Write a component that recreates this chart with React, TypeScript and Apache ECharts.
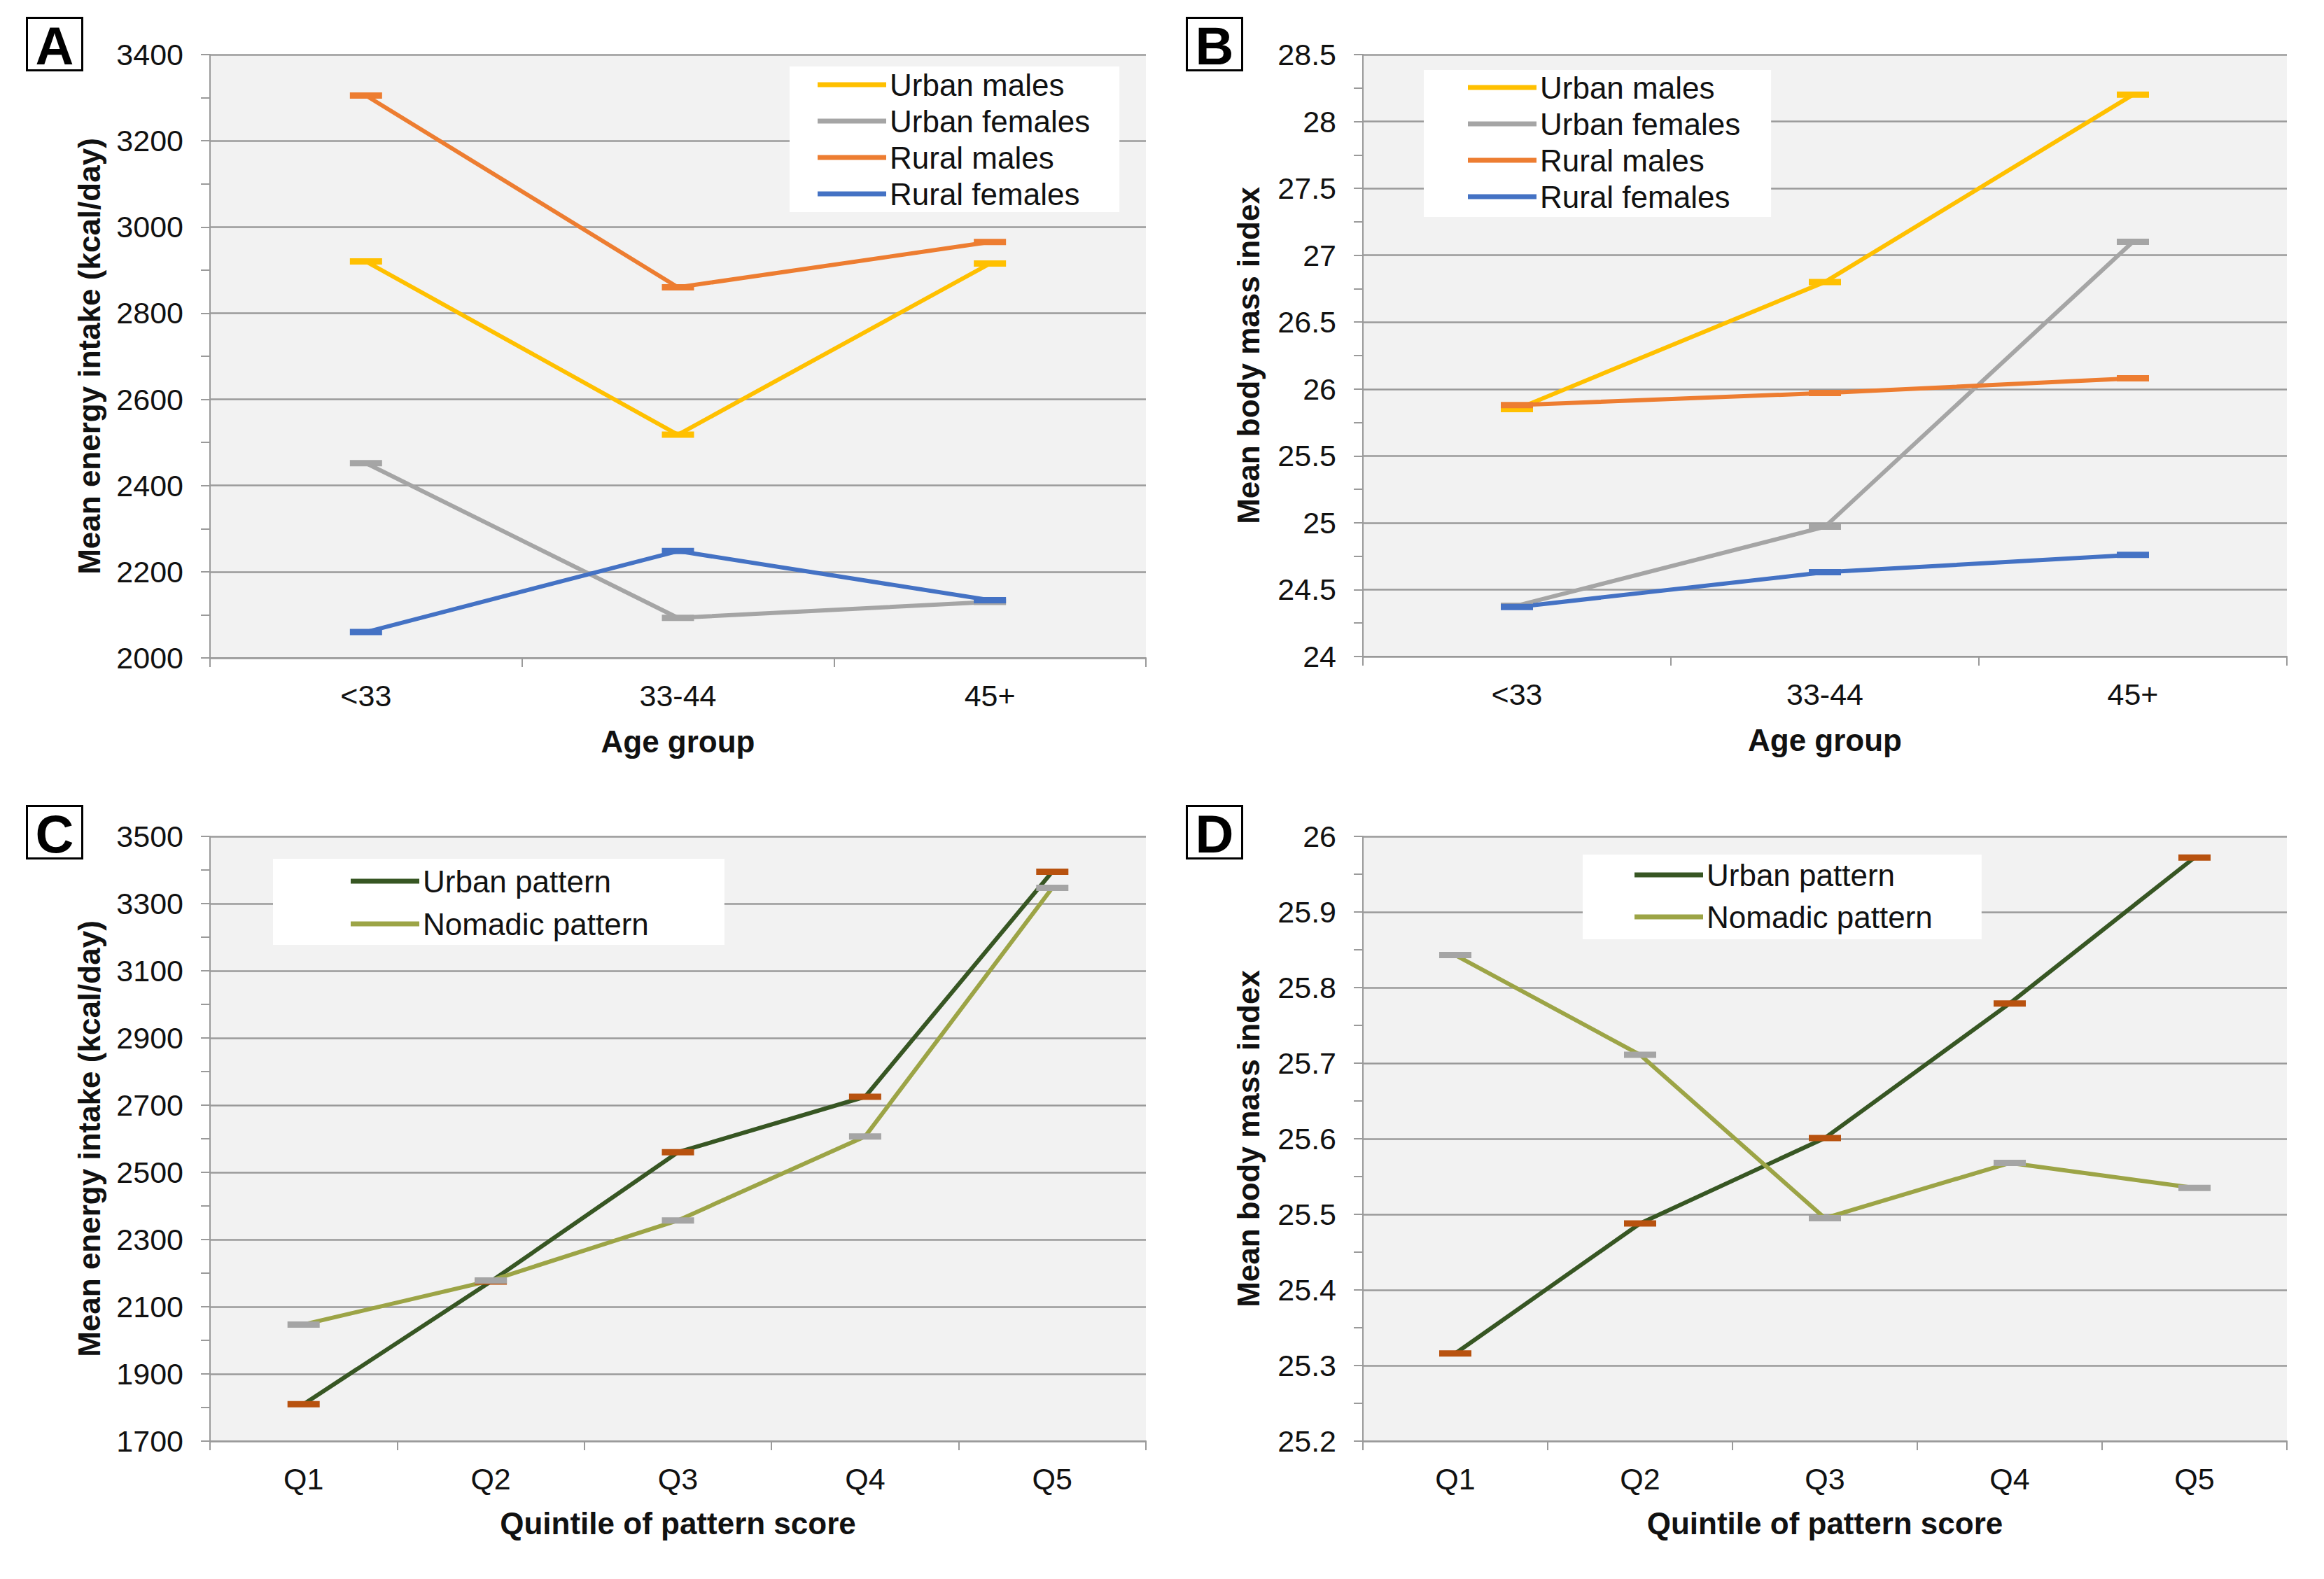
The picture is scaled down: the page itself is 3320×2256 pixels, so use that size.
import React, { useEffect, useRef } from "react";
import * as echarts from "echarts";

// ---------- data ----------
const ageGroups = ["<33", "33-44", "45+"];
const quintiles = ["Q1", "Q2", "Q3", "Q4", "Q5"];

const groupNames = ["Urban males", "Urban females", "Rural males", "Rural females"];
const groupColors = ["#FFC000", "#A5A5A5", "#ED7D31", "#4472C4"];

// Panel A: mean energy intake (kcal/day) by age group
const energyUrbanMales = [2920, 2518, 2915];
const energyUrbanFemales = [2452, 2093, 2130];
const energyRuralMales = [3305, 2860, 2965];
const energyRuralFemales = [2060, 2248, 2134];

// Panel B: mean BMI by age group
const bmiUrbanMales = [25.85, 26.8, 28.2];
const bmiUrbanFemales = [24.38, 24.97, 27.1];
const bmiRuralMales = [25.88, 25.97, 26.08];
const bmiRuralFemales = [24.37, 24.63, 24.76];

// Panel C: mean energy intake by quintile of pattern score
const patternNames = ["Urban pattern", "Nomadic pattern"];
const patternLineColors = ["#375623", "#9CA446"];
const patternMarkerColors = ["#B8520F", "#A5A5A5"];
const energyUrbanPattern = [1810, 2175, 2560, 2725, 3395];
const energyNomadicPattern = [2047, 2178, 2357, 2607, 3347];

// Panel D: mean BMI by quintile of pattern score
const bmiUrbanPattern = [25.316, 25.488, 25.601, 25.779, 25.972];
const bmiNomadicPattern = [25.843, 25.711, 25.495, 25.568, 25.535];

// axis settings
const yTicksA = { min: 2000, max: 3400, interval: 200 };
const yTicksB = { min: 24, max: 28.5, interval: 0.5 };
const yTicksC = { min: 1700, max: 3500, interval: 200 };
const yTicksD = { min: 25.2, max: 26, interval: 0.1 };

const FONT = "'Liberation Sans', Arial, sans-serif";
const AXIS_GRAY = "#9a9a9a";

function App() {
  const ref = useRef<HTMLDivElement>(null);

  useEffect(() => {
    if (!ref.current) return;
    const chart = echarts.init(ref.current, undefined, { renderer: "svg" });

    const grids = [
      { left: 300, top: 78, width: 1337, height: 862 },
      { left: 1947, top: 78, width: 1320, height: 860 },
      { left: 300, top: 1195, width: 1337, height: 864 },
      { left: 1947, top: 1195, width: 1320, height: 864 },
    ].map((g) => ({ ...g, show: true, backgroundColor: "#f2f2f2", borderWidth: 0 }));

    const xNames = ["Age group", "Age group", "Quintile of pattern score", "Quintile of pattern score"];
    const xData = [ageGroups, ageGroups, quintiles, quintiles];
    const xAxis = xData.map((d, i) => ({
      type: "category",
      gridIndex: i,
      data: d,
      boundaryGap: true,
      axisLine: { show: true, lineStyle: { color: AXIS_GRAY, width: 2 } },
      axisTick: { show: true, length: 13, interval: 0, lineStyle: { color: AXIS_GRAY, width: 2 } },
      axisLabel: { fontSize: 43, color: "#111", margin: 32, fontFamily: FONT },
      splitLine: { show: false },
      name: xNames[i],
      nameLocation: "middle",
      nameGap: i < 2 ? 97 : 95,
      nameTextStyle: { fontSize: 44, fontWeight: "bold", color: "#111", fontFamily: FONT },
    }));

    const yNames = [
      "Mean energy intake (kcal/day)",
      "Mean body mass index",
      "Mean energy intake (kcal/day)",
      "Mean body mass index",
    ];
    const yRanges = [yTicksA, yTicksB, yTicksC, yTicksD];
    const yAxis = yRanges.map((r, i) => ({
      type: "value",
      gridIndex: i,
      min: r.min,
      max: r.max,
      interval: r.interval,
      axisLine: { show: true, lineStyle: { color: AXIS_GRAY, width: 2 } },
      axisTick: { show: true, length: 13, lineStyle: { color: AXIS_GRAY, width: 2 } },
      minorTick: { show: true, splitNumber: 2, length: 13, lineStyle: { color: AXIS_GRAY, width: 2 } },
      splitLine: { show: true, lineStyle: { color: AXIS_GRAY, width: 2.5 } },
      axisLabel: {
        fontSize: 43,
        color: "#111",
        margin: 38,
        fontFamily: FONT,
        formatter: (v: number) => String(Math.round(v * 1000) / 1000),
      },
      name: yNames[i],
      nameLocation: "middle",
      nameRotate: 90,
      nameGap: i % 2 === 0 ? 151 : 142,
      nameTextStyle: { fontSize: 44, fontWeight: "bold", color: "#111", fontFamily: FONT },
    }));

    const mk = (
      name: string,
      data: number[],
      idx: number,
      lineColor: string,
      markerColor: string
    ) => ({
      type: "line",
      name,
      xAxisIndex: idx,
      yAxisIndex: idx,
      data,
      symbol: "rect",
      symbolSize: [46, 9],
      showSymbol: true,
      lineStyle: { color: lineColor, width: 6 },
      itemStyle: { color: markerColor },
      emphasis: { disabled: true },
    });

    const seriesA = [energyUrbanMales, energyUrbanFemales, energyRuralMales, energyRuralFemales].map(
      (d, k) => mk(groupNames[k], d, 0, groupColors[k], groupColors[k])
    );
    const seriesB = [bmiUrbanMales, bmiUrbanFemales, bmiRuralMales, bmiRuralFemales].map((d, k) =>
      mk(groupNames[k], d, 1, groupColors[k], groupColors[k])
    );
    const seriesC = [energyUrbanPattern, energyNomadicPattern].map((d, k) =>
      mk(patternNames[k], d, 2, patternLineColors[k], patternMarkerColors[k])
    );
    const seriesD = [bmiUrbanPattern, bmiNomadicPattern].map((d, k) =>
      mk(patternNames[k], d, 3, patternLineColors[k], patternMarkerColors[k])
    );

    const legendBase = {
      orient: "vertical",
      backgroundColor: "#ffffff",
      icon: "rect",
      itemWidth: 98,
      itemHeight: 7,
      selectedMode: false,
      textStyle: { fontSize: 44, color: "#111", fontFamily: FONT, lineHeight: 44 },
    };
    const groupLegendData = groupNames.map((n, k) => ({ name: n, itemStyle: { color: groupColors[k] } }));
    const patternLegendData = patternNames.map((n, k) => ({
      name: n,
      itemStyle: { color: patternLineColors[k] },
    }));

    const legend = [
      { ...legendBase, data: groupLegendData, left: 1128, top: 95, itemGap: 8, padding: [4, 42, 4, 40] },
      { ...legendBase, data: groupLegendData, left: 2034, top: 100, itemGap: 8, padding: [3, 44, 7, 63] },
      { ...legendBase, data: patternLegendData, left: 390, top: 1227, itemGap: 17, padding: [10, 108, 8, 111] },
      { ...legendBase, data: patternLegendData, left: 2261, top: 1221, itemGap: 16, padding: [7, 70, 10, 74] },
    ];

    const letterBoxes = [
      { t: "A", x: 37, y: 24 },
      { t: "B", x: 1694, y: 24 },
      { t: "C", x: 37, y: 1150 },
      { t: "D", x: 1694, y: 1150 },
    ];
    const graphic = letterBoxes.map((b) => ({
      type: "group",
      left: b.x,
      top: b.y,
      children: [
        {
          type: "rect",
          shape: { x: 0, y: 0, width: 79, height: 75 },
          style: { fill: "#fff", stroke: "#000", lineWidth: 3 },
        },
        {
          type: "text",
          x: 39.5,
          y: 40,
          style: {
            text: b.t,
            fontSize: 76,
            fontWeight: "bold",
            fontFamily: FONT,
            fill: "#000",
            align: "center",
            verticalAlign: "middle",
          },
        },
      ],
    }));

    chart.setOption({
      animation: false,
      backgroundColor: "#ffffff",
      textStyle: { fontFamily: FONT },
      grid: grids,
      xAxis,
      yAxis,
      legend,
      graphic,
      series: [...seriesA, ...seriesB, ...seriesC, ...seriesD],
    });

    return () => chart.dispose();
  }, []);

  return (
    <div
      ref={ref}
      style={{ position: "absolute", left: 0, top: 0, width: 3320, height: 2256, background: "#fff" }}
    />
  );
}

export default App;
